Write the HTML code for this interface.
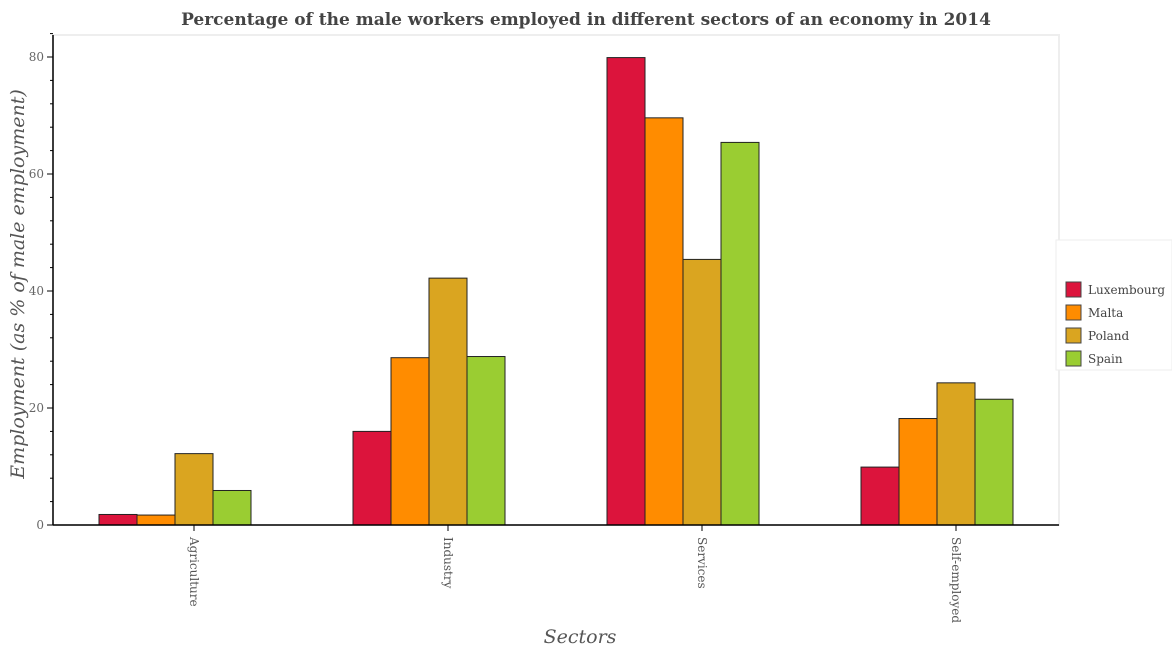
<!DOCTYPE html>
<html><head><meta charset="utf-8"><style>
body{margin:0;background:#fff}
svg{display:block;font-family:"DejaVu Serif","Liberation Serif",serif}
</style></head><body>
<svg id="c" width="1172" height="650">
<text x="586" y="25" text-anchor="middle" font-size="17" font-weight="bold" fill="#444">Percentage of the male workers employed in different sectors of an economy in 2014</text>
<rect x="53" y="35" width="1006" height="490" fill="#fff" stroke="#eee" stroke-width="2"/>
<text transform="translate(24,284) rotate(-90)" text-anchor="middle" font-size="19" font-style="italic" fill="#555">Employment (as % of male employment)</text>
<text x="580" y="643" text-anchor="middle" font-size="19" font-style="italic" fill="#555">Sectors</text>
<g id="bars"></g><g id="axes"></g>
<g>
<rect x="1056" y="240" width="116" height="130" fill="#fff" stroke="#eee"/>
<g id="leg"></g></g>
</svg>
<script>
const categories=["Agriculture","Industry","Services","Self-employed"];
const series=["Luxembourg","Malta","Poland","Spain"];
const luxembourg=[1.8,16.0,79.9,9.9];
const malta=[1.7,28.6,69.6,18.2];
const poland=[12.2,42.2,45.4,24.3];
const spain=[5.9,28.8,65.4,21.5];
const yTicks=[0,20,40,60,80];
const colors=["#dc143c","#ff8c00","#daa520","#9acd32"];
const vals=[luxembourg,malta,poland,spain];
const NS="http://www.w3.org/2000/svg";
const y0=525,py=(525-57)/80,x0=53,x1=1059;
function ys(v){return y0-v*py;}
function gx(i){return 99+i*254;}
const bw=38;
function mk(t,a,p){const e=document.createElementNS(NS,t);for(const k in a)e.setAttribute(k,a[k]);p.appendChild(e);return e;}
const bars=document.getElementById('bars'),axes=document.getElementById('axes'),leg=document.getElementById('leg');
categories.forEach((c,i)=>{
 vals.forEach((s,j)=>{
  const r=mk('rect',{x:gx(i)+j*bw,y:ys(s[i]),width:bw,height:y0-ys(s[i]),fill:colors[j],stroke:'#222','stroke-width':1},bars);
  
  
 });
 const tx=gx(i)+2.5*bw;
 mk('line',{x1:tx,x2:tx,y1:y0,y2:y0+6,stroke:'#000'},axes);
 const t=mk('text',{transform:`translate(${tx-4},${y0+12}) rotate(90)`,'font-size':12,fill:'#555'},axes);
 t.textContent=c;
 
 
});
mk('line',{x1:x0,x2:x1,y1:y0,y2:y0,stroke:'#000','stroke-width':1.5},axes);
mk('line',{x1:x0,x2:x0,y1:35,y2:y0,stroke:'#000','stroke-width':1.5},axes);
for(let v=0;v<=84;v+=4){mk('line',{x1:x0-(v%20==0?6:3),x2:x0,y1:ys(v),y2:ys(v),stroke:'#000'},axes);}
yTicks.forEach(v=>{
 const t=mk('text',{x:x0-9,y:ys(v)+4,'text-anchor':'end','font-size':12,fill:'#666'},axes);
 t.textContent=v;
 
 
});
series.forEach((s,j)=>{
 const yy=282+j*23;
 mk('rect',{x:1066,y:yy,width:15,height:15,fill:colors[j],stroke:'#444'},leg);
 const t=mk('text',{x:1088,y:yy+12,'font-size':12,fill:'#444'},leg);
 t.textContent=s;
 
 
});
</script>
</body></html>
